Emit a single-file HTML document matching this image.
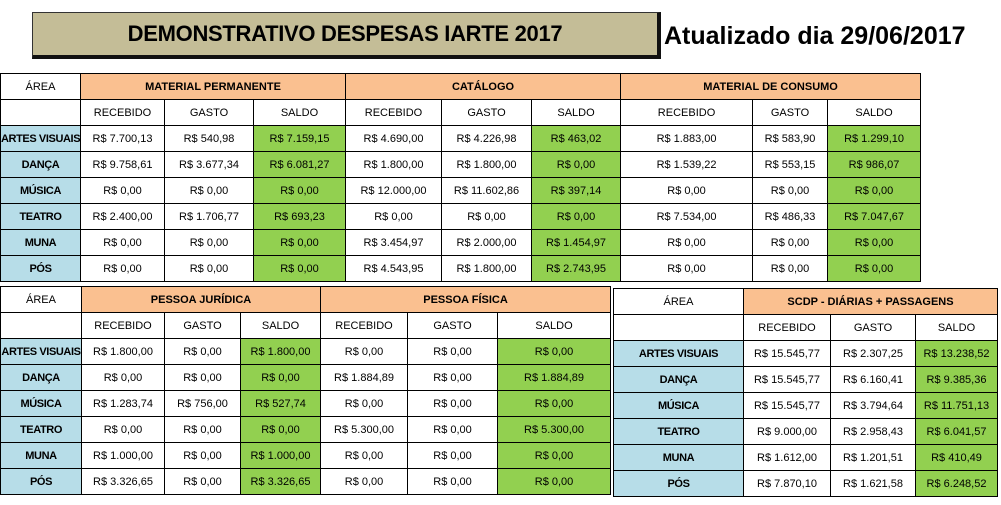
<!DOCTYPE html>
<html><head><meta charset="utf-8"><style>
body{margin:0;width:1001px;height:505px;background:#fff;position:relative;overflow:hidden;font-family:"Liberation Sans",sans-serif;}
table{position:absolute;border-collapse:collapse;table-layout:fixed;font-size:11px;}
td{border:1px solid #000;text-align:center;padding:0;height:25px;white-space:nowrap;overflow:hidden;}
.a{background:#b7dde8;font-weight:bold;letter-spacing:-0.4px;}
.g{background:#92d050;}
.o{background:#fac090;font-weight:bold;}
.title{position:absolute;left:32px;top:12px;width:624px;height:42px;background:#c4bd97;border:1px solid #333;border-right:4px solid #111;border-bottom:4px solid #111;font-weight:bold;font-size:22px;line-height:42px;text-align:center;letter-spacing:-0.3px;}
.upd{position:absolute;left:664px;top:22px;font-weight:bold;font-size:25px;}
</style></head><body>
<div class="title">DEMONSTRATIVO DESPESAS IARTE 2017</div>
<div class="upd">Atualizado dia 29/06/2017</div>

<table style="left:0;top:73px;width:920px">
<colgroup><col style="width:80px"><col style="width:84px"><col style="width:89px"><col style="width:92px"><col style="width:96px"><col style="width:90px"><col style="width:89px"><col style="width:132px"><col style="width:75px"><col style="width:93px"></colgroup>
<tr><td>ÁREA</td><td class="o" colspan="3">MATERIAL PERMANENTE</td><td class="o" colspan="3">CATÁLOGO</td><td class="o" colspan="3">MATERIAL DE CONSUMO</td></tr>
<tr><td></td><td>RECEBIDO</td><td>GASTO</td><td>SALDO</td><td>RECEBIDO</td><td>GASTO</td><td>SALDO</td><td>RECEBIDO</td><td>GASTO</td><td>SALDO</td></tr>
<tr><td class="a">ARTES VISUAIS</td><td>R$ 7.700,13</td><td>R$ 540,98</td><td class="g">R$ 7.159,15</td><td>R$ 4.690,00</td><td>R$ 4.226,98</td><td class="g">R$ 463,02</td><td>R$ 1.883,00</td><td>R$ 583,90</td><td class="g">R$ 1.299,10</td></tr>
<tr><td class="a">DANÇA</td><td>R$ 9.758,61</td><td>R$ 3.677,34</td><td class="g">R$ 6.081,27</td><td>R$ 1.800,00</td><td>R$ 1.800,00</td><td class="g">R$ 0,00</td><td>R$ 1.539,22</td><td>R$ 553,15</td><td class="g">R$ 986,07</td></tr>
<tr><td class="a">MÚSICA</td><td>R$ 0,00</td><td>R$ 0,00</td><td class="g">R$ 0,00</td><td>R$ 12.000,00</td><td>R$ 11.602,86</td><td class="g">R$ 397,14</td><td>R$ 0,00</td><td>R$ 0,00</td><td class="g">R$ 0,00</td></tr>
<tr><td class="a">TEATRO</td><td>R$ 2.400,00</td><td>R$ 1.706,77</td><td class="g">R$ 693,23</td><td>R$ 0,00</td><td>R$ 0,00</td><td class="g">R$ 0,00</td><td>R$ 7.534,00</td><td>R$ 486,33</td><td class="g">R$ 7.047,67</td></tr>
<tr><td class="a">MUNA</td><td>R$ 0,00</td><td>R$ 0,00</td><td class="g">R$ 0,00</td><td>R$ 3.454,97</td><td>R$ 2.000,00</td><td class="g">R$ 1.454,97</td><td>R$ 0,00</td><td>R$ 0,00</td><td class="g">R$ 0,00</td></tr>
<tr><td class="a">PÓS</td><td>R$ 0,00</td><td>R$ 0,00</td><td class="g">R$ 0,00</td><td>R$ 4.543,95</td><td>R$ 1.800,00</td><td class="g">R$ 2.743,95</td><td>R$ 0,00</td><td>R$ 0,00</td><td class="g">R$ 0,00</td></tr>
</table>

<table style="left:0;top:286px;width:610px">
<colgroup><col style="width:81px"><col style="width:83px"><col style="width:76px"><col style="width:80px"><col style="width:87px"><col style="width:90px"><col style="width:113px"></colgroup>
<tr><td>ÁREA</td><td class="o" colspan="3">PESSOA JURÍDICA</td><td class="o" colspan="3">PESSOA FÍSICA</td></tr>
<tr><td></td><td>RECEBIDO</td><td>GASTO</td><td>SALDO</td><td>RECEBIDO</td><td>GASTO</td><td>SALDO</td></tr>
<tr><td class="a">ARTES VISUAIS</td><td>R$ 1.800,00</td><td>R$ 0,00</td><td class="g">R$ 1.800,00</td><td>R$ 0,00</td><td>R$ 0,00</td><td class="g">R$ 0,00</td></tr>
<tr><td class="a">DANÇA</td><td>R$ 0,00</td><td>R$ 0,00</td><td class="g">R$ 0,00</td><td>R$ 1.884,89</td><td>R$ 0,00</td><td class="g">R$ 1.884,89</td></tr>
<tr><td class="a">MÚSICA</td><td>R$ 1.283,74</td><td>R$ 756,00</td><td class="g">R$ 527,74</td><td>R$ 0,00</td><td>R$ 0,00</td><td class="g">R$ 0,00</td></tr>
<tr><td class="a">TEATRO</td><td>R$ 0,00</td><td>R$ 0,00</td><td class="g">R$ 0,00</td><td>R$ 5.300,00</td><td>R$ 0,00</td><td class="g">R$ 5.300,00</td></tr>
<tr><td class="a">MUNA</td><td>R$ 1.000,00</td><td>R$ 0,00</td><td class="g">R$ 1.000,00</td><td>R$ 0,00</td><td>R$ 0,00</td><td class="g">R$ 0,00</td></tr>
<tr><td class="a">PÓS</td><td>R$ 3.326,65</td><td>R$ 0,00</td><td class="g">R$ 3.326,65</td><td>R$ 0,00</td><td>R$ 0,00</td><td class="g">R$ 0,00</td></tr>
</table>

<table style="left:613px;top:288px;width:384px">
<colgroup><col style="width:130px"><col style="width:87px"><col style="width:85px"><col style="width:82px"></colgroup>
<tr><td>ÁREA</td><td class="o" colspan="3">SCDP - DIÁRIAS + PASSAGENS</td></tr>
<tr><td></td><td>RECEBIDO</td><td>GASTO</td><td>SALDO</td></tr>
<tr><td class="a">ARTES VISUAIS</td><td>R$ 15.545,77</td><td>R$ 2.307,25</td><td class="g">R$ 13.238,52</td></tr>
<tr><td class="a">DANÇA</td><td>R$ 15.545,77</td><td>R$ 6.160,41</td><td class="g">R$ 9.385,36</td></tr>
<tr><td class="a">MÚSICA</td><td>R$ 15.545,77</td><td>R$ 3.794,64</td><td class="g">R$ 11.751,13</td></tr>
<tr><td class="a">TEATRO</td><td>R$ 9.000,00</td><td>R$ 2.958,43</td><td class="g">R$ 6.041,57</td></tr>
<tr><td class="a">MUNA</td><td>R$ 1.612,00</td><td>R$ 1.201,51</td><td class="g">R$ 410,49</td></tr>
<tr><td class="a">PÓS</td><td>R$ 7.870,10</td><td>R$ 1.621,58</td><td class="g">R$ 6.248,52</td></tr>
</table>
</body></html>
